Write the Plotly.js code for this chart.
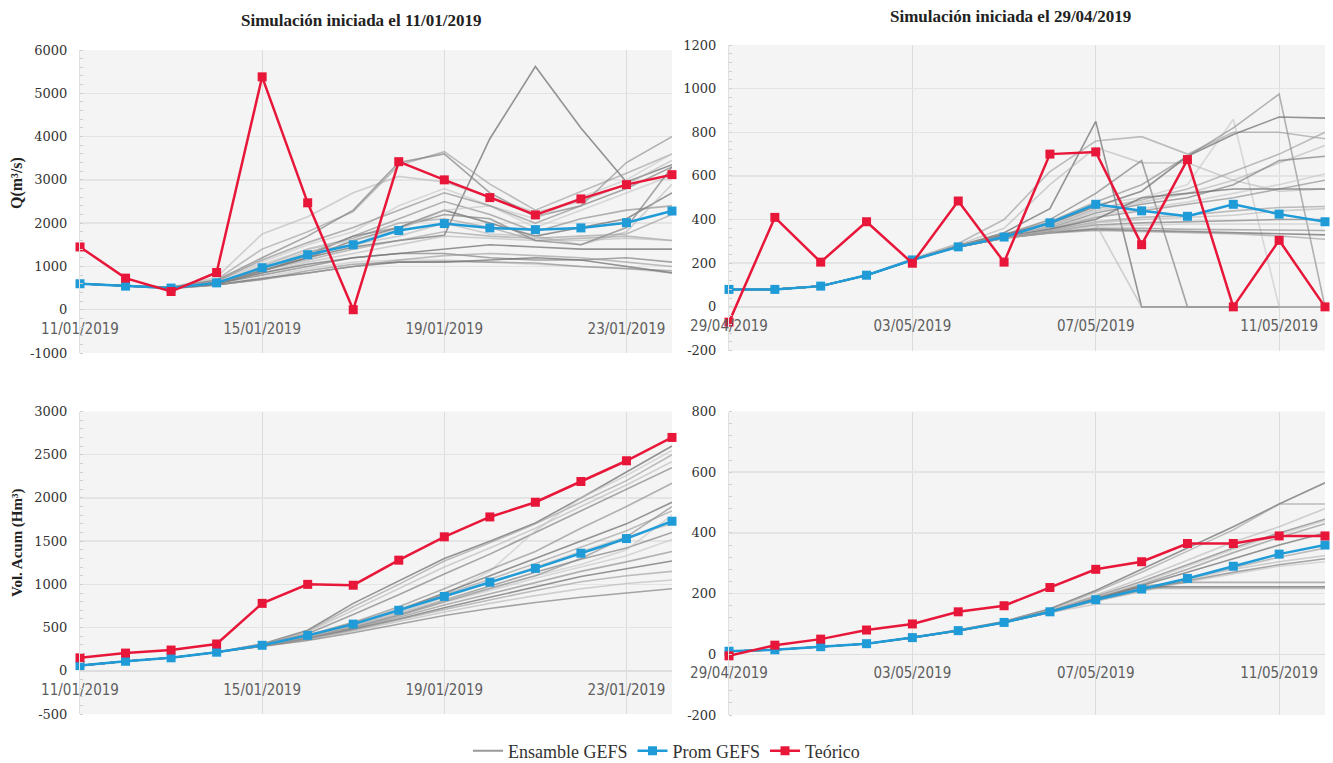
<!DOCTYPE html>
<html>
<head>
<meta charset="utf-8">
<script src="https://cdn.plot.ly/plotly-3.0.1.min.js"></script>
<style>
  html, body { margin: 0; padding: 0; background: #ffffff; }
  #chart { width: 1333px; height: 763px; }
</style>
</head>
<body>
<div id="chart"></div>
<script>
// ---------------- DATA ----------------
const TITLE_JAN = 'Simulación iniciada el 11/01/2019';
const TITLE_MAY = 'Simulación iniciada el 29/04/2019';
const YTITLE_Q = 'Q(m³/s)';
const YTITLE_V = 'Vol. Acum (Hm³)';
const NAME_ENS = 'Ensamble GEFS';
const NAME_PROM = 'Prom GEFS';
const NAME_TEO = 'Teórico';

const DATES_JAN = ['2019-01-11','2019-01-12','2019-01-13','2019-01-14','2019-01-15','2019-01-16','2019-01-17',
                   '2019-01-18','2019-01-19','2019-01-20','2019-01-21','2019-01-22','2019-01-23','2019-01-24'];
const DATES_MAY = ['2019-04-29','2019-04-30','2019-05-01','2019-05-02','2019-05-03','2019-05-04','2019-05-05',
                   '2019-05-06','2019-05-07','2019-05-08','2019-05-09','2019-05-10','2019-05-11','2019-05-12'];

const TICKVALS_JAN = ['2019-01-11','2019-01-15','2019-01-19','2019-01-23'];
const TICKTEXT_JAN = ['11/01/2019','15/01/2019','19/01/2019','23/01/2019'];
const TICKVALS_MAY = ['2019-04-29','2019-05-03','2019-05-07','2019-05-11'];
const TICKTEXT_MAY = ['29/04/2019','03/05/2019','07/05/2019','11/05/2019'];

const YTICKS_Q_JAN = [-1000, 0, 1000, 2000, 3000, 4000, 5000, 6000];
const YLABELS_Q_JAN = ['-1000','0','1000','2000','3000','4000','5000','6000'];
const YTICKS_Q_MAY = [-200, 0, 200, 400, 600, 800, 1000, 1200];
const YLABELS_Q_MAY = ['-200','0','200','400','600','800','1000','1200'];
const YTICKS_V_JAN = [-500, 0, 500, 1000, 1500, 2000, 2500, 3000];
const YLABELS_V_JAN = ['-500','0','500','1000','1500','2000','2500','3000'];
const YTICKS_V_MAY = [-200, 0, 200, 400, 600, 800];
const YLABELS_V_MAY = ['-200','0','200','400','600','800'];

// Caudal (m3/s) - enero
const Q_JAN_TEORICO = [1450, 730, 420, 860, 5380, 2470, 0, 3420, 3000, 2590, 2190, 2560, 2890, 3120];
const Q_JAN_PROM    = [600, 545, 500, 620, 970, 1270, 1500, 1830, 1990, 1890, 1850, 1890, 2010, 2280];
const Q_JAN_ENSAMBLE = [
  [600,560,520,640,900,1200,1450,1600,1720,3950,5620,4200,2950,3350],
  [600,560,520,700,1400,1800,2270,3340,3650,2900,2300,2730,3150,3600],
  [600,560,520,750,1750,2150,2700,3080,2950,2600,2250,2500,2900,3450],
  [600,560,520,680,1200,1700,2300,3400,3600,2700,2150,2400,2800,3300],
  [600,550,510,650,1100,1500,1800,2400,2800,2400,1900,2300,2700,3100],
  [600,550,500,620,950,1300,1700,2100,2500,2200,1800,2100,2300,2400],
  [600,550,500,600,900,1200,1600,1900,2300,2000,1700,1900,2100,2700],
  [600,550,500,610,1000,1400,1650,2000,2100,1900,1600,1650,1700,1600],
  [600,550,500,600,850,1100,1300,1500,1700,1650,1600,1600,1650,1600],
  [600,550,500,600,800,1000,1200,1300,1300,1200,1150,1150,1200,1100],
  [600,550,500,580,750,950,1100,1150,1150,1100,1050,1000,950,850],
  [600,550,500,580,700,900,1050,1100,1120,1100,1080,1000,950,900],
  [600,550,490,570,720,850,1000,1100,1100,1150,1200,1150,1000,850],
  [600,540,490,570,700,850,1000,1150,1250,1300,1250,1200,1100,1000],
  [600,550,500,620,950,1350,1500,1700,2000,1750,1700,1500,1800,2900],
  [600,550,500,600,900,1250,1700,1900,2200,2100,1600,1500,1900,3300],
  [600,550,510,640,1050,1400,1600,1850,2300,2400,2100,2600,3000,3600],
  [600,560,520,660,1150,1550,1900,2300,2700,2400,2000,2400,3400,4000],
  [600,550,500,600,850,1050,1200,1300,1400,1500,1450,1400,1400,1400],
  [600,550,500,610,900,1150,1400,1600,1800,1700,1650,1700,1750,2200]
];

// Caudal (m3/s) - mayo
const Q_MAY_TEORICO = [-70, 410, 205, 390, 200, 485, 205, 700, 710, 285, 675, 0, 305, 0];
const Q_MAY_PROM    = [80, 80, 95, 145, 215, 275, 320, 385, 470, 440, 415, 470, 425, 390];
const Q_MAY_ENSAMBLE = [
  [80,80,95,145,215,280,340,450,850,0,0,0,0,0],
  [80,80,95,145,220,290,400,620,760,780,700,800,800,770],
  [80,80,95,145,215,285,360,560,730,660,660,580,530,540],
  [80,80,95,145,215,280,330,400,520,670,0,0,0,0],
  [80,80,95,145,215,280,330,380,470,500,560,860,0,0],
  [80,80,95,145,215,280,330,390,480,560,690,820,975,0],
  [80,80,95,145,215,280,330,380,460,530,690,790,870,865],
  [80,80,95,145,215,280,325,370,450,490,540,620,700,800],
  [80,80,95,145,215,280,325,365,440,480,520,580,660,740],
  [80,80,95,145,215,278,322,360,430,470,500,560,670,690],
  [80,80,95,145,215,278,322,360,420,450,480,520,560,610],
  [80,80,95,145,215,278,320,355,410,440,470,500,540,580],
  [80,80,95,145,215,276,320,355,400,500,520,540,540,540],
  [80,80,95,145,215,276,318,350,390,410,420,440,455,460],
  [80,80,95,145,215,276,318,350,385,400,410,420,440,450],
  [80,80,95,145,215,275,316,345,375,385,390,395,400,400],
  [80,80,95,145,215,275,316,345,370,375,380,380,380,380],
  [80,80,95,145,215,275,315,340,360,360,355,355,352,350],
  [80,80,95,145,215,275,315,340,355,350,345,340,335,330],
  [80,80,95,145,215,275,315,338,350,345,340,335,325,310],
  [80,80,95,145,215,275,315,340,380,0,0,0,0,0]
];

// Volumen acumulado (Hm3) - enero
const V_JAN_TEORICO = [150, 205, 240, 310, 780, 1000, 990, 1280, 1550, 1780, 1950, 2190, 2430, 2700];
const V_JAN_PROM    = [60, 110, 150, 215, 295, 410, 540, 700, 860, 1025, 1185, 1360, 1530, 1730];
const V_JAN_ENSAMBLE = [
  [60,110,150,215,310,470,780,1040,1300,1500,1710,2000,2300,2600],
  [60,110,150,215,310,460,740,1000,1270,1480,1700,1950,2200,2500],
  [60,110,150,215,305,450,700,950,1200,1420,1650,1900,2150,2420],
  [60,110,150,215,300,430,650,880,1120,1350,1600,1850,2100,2350],
  [60,110,150,215,300,410,560,720,880,1150,1620,2000,2260,2550],
  [60,110,150,215,295,410,560,740,950,1170,1380,1650,1900,2170],
  [60,110,150,215,295,400,540,700,900,1100,1300,1500,1700,1950],
  [60,110,150,215,295,400,530,690,880,1060,1240,1430,1620,1850],
  [60,110,150,215,290,390,520,670,850,1020,1200,1380,1550,1700],
  [60,110,150,215,290,390,510,650,820,980,1140,1290,1420,1600],
  [60,110,150,215,290,380,500,640,790,930,1070,1200,1330,1520],
  [60,110,150,215,290,380,490,620,760,890,1020,1150,1260,1380],
  [60,110,150,215,285,370,480,600,730,850,970,1090,1180,1270],
  [60,110,150,215,285,370,470,590,710,820,930,1030,1100,1150],
  [60,110,150,215,285,360,460,570,680,780,870,950,1010,1050],
  [60,110,150,215,280,350,440,540,640,720,790,850,900,950],
  [60,110,150,215,290,390,510,660,820,960,1100,1230,1400,1800],
  [60,110,150,215,290,380,500,640,800,950,1100,1300,1550,1900]
];

// Volumen acumulado (Hm3) - mayo
const V_MAY_TEORICO = [-5, 30, 50, 80, 100, 140, 160, 220, 280, 305, 365, 365, 390, 390];
const V_MAY_PROM    = [10, 15, 25, 35, 55, 78, 105, 140, 180, 215, 250, 290, 330, 360];
const V_MAY_ENSAMBLE = [
  [10,15,25,35,55,80,108,150,210,280,350,420,495,565],
  [10,15,25,35,55,80,108,148,205,270,340,410,495,495],
  [10,15,25,35,55,80,107,145,195,250,310,370,420,480],
  [10,15,25,35,55,78,106,142,190,240,295,350,400,445],
  [10,15,25,35,55,78,105,140,188,235,290,345,395,440],
  [10,15,25,35,55,78,105,140,185,230,280,335,385,430],
  [10,15,25,35,55,78,105,140,182,225,270,315,360,400],
  [10,15,25,35,55,78,105,138,178,215,250,285,320,350],
  [10,15,25,35,55,78,105,138,178,212,245,280,305,325],
  [10,15,25,35,55,78,105,138,176,210,242,270,295,315],
  [10,15,25,35,55,78,105,138,176,208,238,265,290,305],
  [10,15,25,35,55,78,105,140,185,225,237,237,237,237],
  [10,15,25,35,55,78,105,140,182,222,222,222,222,222],
  [10,15,25,35,55,78,105,138,178,217,217,217,217,217],
  [10,15,25,35,55,78,105,138,165,165,165,165,165,165]
];

// ---------------- STYLE ----------------
const RED = '#e8173a';
const BLUE = '#1f9bd8';
const ENS_COLORS = ['rgba(115,115,115,0.75)','rgba(150,150,150,0.6)','rgba(175,175,175,0.55)',
                    'rgba(130,130,130,0.7)','rgba(195,195,195,0.6)','rgba(140,140,140,0.65)'];
const SERIF = '"Liberation Serif", "DejaVu Serif", serif';
const NUMFONT = '"DejaVu Serif", serif';
const SANS = '"DejaVu Sans Condensed", "DejaVu Sans", sans-serif';

const panels = [
  {x: DATES_JAN, teo: Q_JAN_TEORICO, prom: Q_JAN_PROM, ens: Q_JAN_ENSAMBLE, xa: 'x',  ya: 'y'},
  {x: DATES_MAY, teo: Q_MAY_TEORICO, prom: Q_MAY_PROM, ens: Q_MAY_ENSAMBLE, xa: 'x2', ya: 'y2'},
  {x: DATES_JAN, teo: V_JAN_TEORICO, prom: V_JAN_PROM, ens: V_JAN_ENSAMBLE, xa: 'x3', ya: 'y3'},
  {x: DATES_MAY, teo: V_MAY_TEORICO, prom: V_MAY_PROM, ens: V_MAY_ENSAMBLE, xa: 'x4', ya: 'y4'}
];

const traces = [];
panels.forEach((p) => {
  p.ens.forEach((serie, i) => {
    traces.push({
      type: 'scatter', mode: 'lines', x: p.x, y: serie, xaxis: p.xa, yaxis: p.ya,
      line: {color: ENS_COLORS[i % ENS_COLORS.length], width: 1.6},
      name: NAME_ENS, legendgroup: 'ens', showlegend: false, hoverinfo: 'skip', cliponaxis: false
    });
  });
});
// legend entry for the ensemble (no visible data)
traces.push({type: 'scatter', mode: 'lines', x: [null], y: [null], xaxis: 'x', yaxis: 'y',
  line: {color: '#9a9a9a', width: 2}, name: NAME_ENS, legendgroup: 'ens', showlegend: true});
panels.forEach((p, pi) => {
  traces.push({
    type: 'scatter', mode: 'lines+markers', x: p.x, y: p.prom, xaxis: p.xa, yaxis: p.ya,
    line: {color: BLUE, width: 2.5}, marker: {symbol: 'square', size: 9, color: BLUE},
    name: NAME_PROM, legendgroup: 'prom', showlegend: pi === 0, cliponaxis: false
  });
});
panels.forEach((p, pi) => {
  traces.push({
    type: 'scatter', mode: 'lines+markers', x: p.x, y: p.teo, xaxis: p.xa, yaxis: p.ya,
    line: {color: RED, width: 2.5}, marker: {symbol: 'square', size: 9, color: RED},
    name: NAME_TEO, legendgroup: 'teo', showlegend: pi === 0, cliponaxis: false
  });
});

const W = 1333, H = 763;
const dx = (a, b) => [a / W, b / W];
const dy = (top, bottom) => [1 - bottom / H, 1 - top / H];

const DOM = {
  x:  dx(80, 672),  y:  dy(50, 353),
  x2: dx(729, 1325), y2: dy(45, 350.5),
  x3: dx(80, 672),  y3: dy(411.5, 714),
  x4: dx(729, 1325), y4: dy(411.5, 715)
};
const YT = {
  y:  {vals: YTICKS_Q_JAN, text: YLABELS_Q_JAN},
  y2: {vals: YTICKS_Q_MAY, text: YLABELS_Q_MAY},
  y3: {vals: YTICKS_V_JAN, text: YLABELS_V_JAN},
  y4: {vals: YTICKS_V_MAY, text: YLABELS_V_MAY}
};
function yRange(yk) { const v = YT[yk].vals; return [v[0], v[v.length - 1]]; }

function zeroPos(yk) {
  const d = DOM[yk], r = yRange(yk);
  return d[0] + (0 - r[0]) / (r[1] - r[0]) * (d[1] - d[0]);
}

function xaxisDef(dom, range, tv, tt, yk) {
  return {
    type: 'date', domain: dom, range: range, anchor: 'free', position: zeroPos(yk),
    tickmode: 'array', tickvals: tv, ticktext: tt,
    ticks: 'outside', ticklen: 5, tickcolor: 'rgba(0,0,0,0)',
    tickfont: {family: SANS, size: 15, color: '#5e5e5e'},
    showgrid: true, gridcolor: '#dcdcdc', gridwidth: 1.2,
    showline: false, zeroline: false, fixedrange: true
  };
}
function yaxisDef(dom, yk) {
  const step = YT[yk].vals[1] - YT[yk].vals[0];
  return {
    domain: dom, range: yRange(yk), anchor: yk === 'y' ? 'x' : 'x' + yk.slice(1),
    tickmode: 'array', tickvals: YT[yk].vals, ticktext: YT[yk].text,
    tickfont: {family: NUMFONT, size: 13, color: '#333'},
    ticks: 'outside', ticklen: 9, tickcolor: 'rgba(0,0,0,0)',
    showgrid: true, gridcolor: '#e4e4e4', gridwidth: 1.5,
    zeroline: true, zerolinecolor: '#dedede', zerolinewidth: 1.5,
    showline: true, linecolor: '#e0e0e0', linewidth: 1,
    minor: {ticks: 'inside', ticklen: 3, tickcolor: '#cfcfcf', dtick: step / 5, tick0: 0, showgrid: false},
    fixedrange: true
  };
}

const layout = {
  width: W, height: H,
  margin: {l: 0, r: 0, t: 0, b: 0, autoexpand: false},
  paper_bgcolor: '#ffffff',
  plot_bgcolor: '#f4f4f4',
  showlegend: true,
  legend: {
    orientation: 'h', x: 0.5, xanchor: 'center', y: 12 / H, yanchor: 'middle',
    font: {family: SERIF, size: 18, color: '#333'}, traceorder: 'normal',
    itemwidth: 30, bgcolor: 'rgba(0,0,0,0)'
  },
  xaxis:  xaxisDef(DOM.x,  [DATES_JAN[0], DATES_JAN[13]], TICKVALS_JAN, TICKTEXT_JAN, 'y'),
  xaxis2: xaxisDef(DOM.x2, [DATES_MAY[0], DATES_MAY[13]], TICKVALS_MAY, TICKTEXT_MAY, 'y2'),
  xaxis3: xaxisDef(DOM.x3, [DATES_JAN[0], DATES_JAN[13]], TICKVALS_JAN, TICKTEXT_JAN, 'y3'),
  xaxis4: xaxisDef(DOM.x4, [DATES_MAY[0], DATES_MAY[13]], TICKVALS_MAY, TICKTEXT_MAY, 'y4'),
  yaxis:  yaxisDef(DOM.y,  'y'),
  yaxis2: yaxisDef(DOM.y2, 'y2'),
  yaxis3: yaxisDef(DOM.y3, 'y3'),
  yaxis4: yaxisDef(DOM.y4, 'y4'),
  annotations: [
    {text: TITLE_JAN, xref: 'paper', yref: 'paper', x: 361 / W, y: 1 - 20 / H, xanchor: 'center', yanchor: 'middle',
     showarrow: false, font: {family: SERIF, size: 17, color: '#222', weight: 'bold'}},
    {text: TITLE_MAY, xref: 'paper', yref: 'paper', x: 1010 / W, y: 1 - 16 / H, xanchor: 'center', yanchor: 'middle',
     showarrow: false, font: {family: SERIF, size: 17, color: '#222', weight: 'bold'}},
    {text: YTITLE_Q, xref: 'paper', yref: 'paper', x: 17 / W, y: 1 - 183 / H, xanchor: 'center', yanchor: 'middle',
     textangle: -90, showarrow: false, font: {family: SERIF, size: 16, color: '#222', weight: 'bold'}},
    {text: YTITLE_V, xref: 'paper', yref: 'paper', x: 17 / W, y: 1 - 543 / H, xanchor: 'center', yanchor: 'middle',
     textangle: -90, showarrow: false, font: {family: SERIF, size: 15, color: '#222', weight: 'bold'}}
  ]
};

Plotly.newPlot('chart', traces, layout, {displayModeBar: false, staticPlot: true});
</script>
</body>
</html>
